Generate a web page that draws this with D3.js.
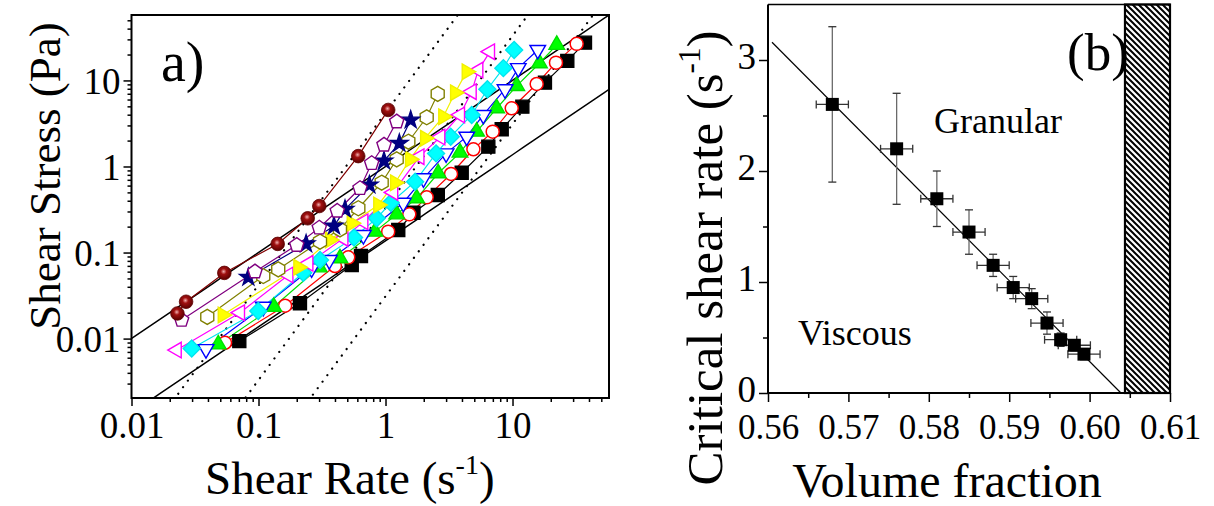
<!DOCTYPE html>
<html><head><meta charset="utf-8">
<script src="https://cdn.jsdelivr.net/npm/d3@7/dist/d3.min.js"></script>
<style>
html,body{margin:0;padding:0;background:#fff;}
svg{display:block;font-family:"Liberation Serif","Times New Roman",serif;}
</style></head>
<body>
<svg id="chart" width="1214" height="506"></svg>
<script>
// ---------- Panel a data: [shear rate (1/s), shear stress (Pa)] ----------
const sMaroon  = [[0.023,0.0196],[0.0269,0.0268],[0.0538,0.058],[0.1416,0.126],[0.244,0.25],[0.301,0.347],[0.61,1.32],[1.05,4.54]];
const sPurple  = [[0.0248,0.0164],[0.0938,0.06],[0.2,0.122],[0.301,0.194],[0.417,0.304],[0.63,0.558],[0.778,1.09],[0.973,1.78],[1.225,3.32]];
const sNavy    = [[0.0832,0.0515],[0.237,0.126],[0.393,0.203],[0.48,0.318],[0.746,0.61],[0.973,1.16],[1.285,1.86],[1.578,3.47]];
const sOlive   = [[0.0395,0.0179],[0.109,0.0533],[0.143,0.0638],[0.305,0.134],[0.438,0.186],[0.611,0.327],[0.933,0.648],[1.225,1.21],[1.513,1.94],[2.11,3.73],[2.576,6.97]];
const sYellow  = [[0.0523,0.0188],[0.206,0.0673],[0.366,0.14],[0.542,0.219],[0.877,0.357],[1.19,0.648],[1.56,1.21],[2.05,2.13],[2.85,3.79],[3.53,7.21],[4.36,12.65]];
const sMagenta = [[0.0227,0.00735],[0.0715,0.02],[0.172,0.0548],[0.247,0.0749],[0.466,0.146],[0.669,0.228],[1.15,0.5],[1.85,1.3],[2.7,2.2],[3.86,3.97],[4.77,7.41],[5.38,13.2],[6.65,21.6]];
const sCyan    = [[0.0298,0.00769],[0.0996,0.0209],[0.225,0.0582],[0.305,0.0818],[0.565,0.15],[0.853,0.25],[1.1,0.379],[1.71,0.666],[2.5,1.42],[3.26,2.22],[4.77,3.97],[6.34,7.9],[8.47,13.9],[10.3,22.6]];
const sBlue    = [[0.0386,0.00755],[0.109,0.0234],[0.262,0.0655],[0.361,0.0818],[0.669,0.16],[1.38,0.379],[1.99,0.729],[3.0,1.42],[4.36,2.22],[5.89,3.97],[8.73,7.9],[11.1,13.9],[15.8,22.6]];
const sGreen   = [[0.0482,0.00856],[0.132,0.0234],[0.301,0.0673],[0.438,0.0857],[0.826,0.175],[1.225,0.278],[1.76,0.427],[2.6,0.834],[3.86,1.45],[5.22,2.54],[7.51,4.75],[10.8,8.63],[16.3,15.85],[22.3,25.9]];
const sRed     = [[0.0545,0.00894],[0.162,0.0241],[0.4,0.0697],[0.509,0.088],[1.05,0.175],[1.54,0.278],[2.11,0.438],[3.28,0.818],[4.92,1.585],[6.98,2.54],[9.86,4.75],[15.5,9.1],[22.0,16.1],[32.0,26.6]];
const sBlack   = [[0.0706,0.00935],[0.212,0.0257],[0.542,0.0716],[0.641,0.091],[1.26,0.183],[1.66,0.29],[2.58,0.467],[3.98,0.847],[6.45,1.70],[8.22,2.71],[11.95,4.96],[18.0,9.42],[27.0,16.9],[37.2,27.5]];
// reference lines: tau = k * rate^n
const solidK = [1.0, 0.137];   // slope 1 lines
const dottedK = [4.2, 0.33, 0.031]; // slope 2 lines
const xTicksA = [0.01, 0.1, 1, 10];
const yTicksA = [0.01, 0.1, 1, 10];

// ---------- Panel b data ----------
const phi     = [0.568,0.576,0.581,0.585,0.588,0.5905,0.5928,0.5947,0.5964,0.5981,0.5993];
const rateC   = [2.6,2.2,1.75,1.45,1.15,0.95,0.85,0.63,0.48,0.43,0.35];
const rateErr = [0.7,0.5,0.25,0.2,0.1,0.1,0.09,0.1,0.06,0.05,0.05];
const phiErr  = [0.002,0.002,0.002,0.002,0.002,0.002,0.002,0.002,0.002,0.002,0.002];
const phiFit  = [0.5605, 0.6039];
const rateFit = [3.16, 0];
const phiJam  = [0.6044, 0.61];
const xTicksB = [0.56,0.57,0.58,0.59,0.60,0.61];
const yTicksB = [0,1,2,3];

const svg = d3.select("#chart");
const defs = svg.append("defs");
const grad = defs.append("radialGradient").attr("id","sphere").attr("cx","45%").attr("cy","40%").attr("r","60%");
grad.append("stop").attr("offset","0%").attr("stop-color","#f2b0b0");
grad.append("stop").attr("offset","35%").attr("stop-color","#a01010");
grad.append("stop").attr("offset","100%").attr("stop-color","#5a0000");
const pat = defs.append("pattern").attr("id","hatch").attr("patternUnits","userSpaceOnUse")
  .attr("width",6).attr("height",6);
pat.append("path").attr("d","M-1,-1 L7,7 M-1,5 L1,7 M5,-1 L7,1").attr("stroke","#000").attr("stroke-width",2);

// ================= Panel a =================
const xa = d3.scaleLog().domain([0.01, 57.5]).range([131.5, 609]);
const ya = d3.scaleLog().domain([0.00204, 57.6]).range([398, 15]);
const ga = svg.append("g");
const clipA = defs.append("clipPath").attr("id","clipA");
clipA.append("rect").attr("x",131.5).attr("y",15).attr("width",609-131.5).attr("height",398-15);

function minorLog(domain){
  const out=[];
  for(let e=-4;e<=3;e++){for(let m=1;m<10;m++){const v=m*Math.pow(10,e);
    if(v>=domain[0]*0.9999 && v<=domain[1]*1.0001) out.push(v);}}
  return out;
}
const fmtA = v => v>=1 ? String(v) : String(+v.toPrecision(1));
// x axis
ga.append("g").attr("transform","translate(0,398)")
  .call(d3.axisBottom(xa).tickValues(minorLog(xa.domain()).filter(v=>!xTicksA.includes(v))).tickSize(4).tickFormat(""))
  .call(g=>g.select(".domain").remove());
ga.append("g").attr("transform","translate(0,398)")
  .call(d3.axisBottom(xa).tickValues(xTicksA).tickSize(8).tickPadding(6).tickFormat(fmtA))
  .call(g=>g.select(".domain").remove())
  .call(g=>g.selectAll("text").attr("font-size",37).attr("font-family","Liberation Serif").attr("fill","#000"));
// y axis
ga.append("g").attr("transform","translate(131.5,0)")
  .call(d3.axisLeft(ya).tickValues(minorLog(ya.domain()).filter(v=>!yTicksA.includes(v))).tickSize(4).tickFormat(""))
  .call(g=>g.select(".domain").remove());
ga.append("g").attr("transform","translate(131.5,0)")
  .call(d3.axisLeft(ya).tickValues(yTicksA).tickSize(8).tickPadding(3).tickFormat(fmtA))
  .call(g=>g.select(".domain").remove())
  .call(g=>g.selectAll("text").attr("font-size",37).attr("font-family","Liberation Serif").attr("fill","#000").attr("dy","0.34em"));
ga.selectAll(".tick line").attr("stroke","#000").attr("stroke-width",1.5);

const plotA = ga.append("g").attr("clip-path","url(#clipA)");
// reference lines
function refLine(k,n){
  const r = d3.range(0,61).map(i=>Math.pow(10,-2.2+i*0.07));
  return r.map(x=>[x,k*Math.pow(x,n)]);
}
const lineA = d3.line().x(d=>xa(d[0])).y(d=>ya(d[1]));
solidK.forEach(k=>plotA.append("path").attr("d",lineA(refLine(k,1))).attr("fill","none").attr("stroke","#000").attr("stroke-width",1.5));
dottedK.forEach(k=>plotA.append("path").attr("d",lineA(refLine(k,2))).attr("fill","none").attr("stroke","#000").attr("stroke-width",2.2).attr("stroke-dasharray","0.1 8").attr("stroke-linecap","round"));

function poly(n, r, rot){
  const pts=[];
  for(let i=0;i<n;i++){const a=rot+i*2*Math.PI/n; pts.push([r*Math.sin(a),-r*Math.cos(a)]);}
  return "M"+pts.map(p=>p[0].toFixed(2)+","+p[1].toFixed(2)).join("L")+"Z";
}
const shapes = {
  sphere: {type:"circle"},
  pentagon: {d:poly(5,7.5,0)},
  star: {d:d3.symbol(d3.symbolStar,95)()},
  hexagon: {d:poly(6,7.5,0)},
  triRight: {d:poly(3,9,Math.PI/2)},
  triLeft: {d:poly(3,9,-Math.PI/2)},
  diamond: {d:poly(4,8.5,0)},
  triDown: {d:poly(3,9,Math.PI)},
  triUp: {d:poly(3,9,0)},
  circle: {type:"circle"},
  square: {d:"M-6.5,-6.5H6.5V6.5H-6.5Z"}
};
const seriesA = [
  {data:sBlack,   color:"#000000", shape:"square",   fill:"#000000"},
  {data:sRed,     color:"#ff0000", shape:"circle",   fill:"#ffffff"},
  {data:sGreen,   color:"#00e000", shape:"triUp",    fill:"#00ff00"},
  {data:sBlue,    color:"#0000ff", shape:"triDown",  fill:"#ffffff"},
  {data:sCyan,    color:"#00e5ee", shape:"diamond",  fill:"#00ffff"},
  {data:sMagenta, color:"#ff00ff", shape:"triLeft",  fill:"#ffffff"},
  {data:sYellow,  color:"#f0f000", shape:"triRight", fill:"#ffff00"},
  {data:sOlive,   color:"#808000", shape:"hexagon",  fill:"#ffffff"},
  {data:sNavy,    color:"#000080", shape:"star",     fill:"#000080"},
  {data:sPurple,  color:"#800080", shape:"pentagon", fill:"#ffffff"},
  {data:sMaroon,  color:"#800000", shape:"sphere",   fill:"url(#sphere)"}
];
seriesA.forEach(s=>{
  plotA.append("path").attr("d",lineA(s.data)).attr("fill","none").attr("stroke",s.color).attr("stroke-width",1.2);
});
seriesA.forEach(s=>{
  const g = plotA.append("g");
  const sh = shapes[s.shape];
  s.data.forEach(d=>{
    if(sh.type==="circle"){
      g.append("circle").attr("cx",xa(d[0])).attr("cy",ya(d[1])).attr("r",s.shape==="sphere"?6.8:6.5)
        .attr("fill",s.fill).attr("stroke",s.shape==="sphere"?"#600000":s.color).attr("stroke-width",s.shape==="sphere"?0.8:1.5);
    } else {
      g.append("path").attr("d",sh.d).attr("transform",`translate(${xa(d[0])},${ya(d[1])})`)
        .attr("fill",s.fill).attr("stroke",s.color).attr("stroke-width",1.4).attr("stroke-linejoin","miter");
    }
  });
});
ga.append("rect").attr("x",131.5).attr("y",15).attr("width",609-131.5).attr("height",398-15)
  .attr("fill","none").attr("stroke","#000").attr("stroke-width",2);
ga.append("text").attr("x",161).attr("y",81).attr("font-size",56).text("a)");
ga.append("text").attr("transform","translate(60,176) rotate(-90)").attr("text-anchor","middle").attr("font-size",45)
  .text("Shear Stress (Pa)");
const xtA = ga.append("text").attr("x",205).attr("y",494).attr("font-size",47);
xtA.append("tspan").text("Shear Rate (s");
xtA.append("tspan").attr("font-size",28).attr("dy",-20).text("-1");
xtA.append("tspan").attr("dy",20).text(")");

// ================= Panel b =================
const xb = d3.scaleLinear().domain([0.56,0.61]).range([768,1170]);
const yb = d3.scaleLinear().domain([0,3.5]).range([393,4.5]);
const gb = svg.append("g");
// hatched jamming region
gb.append("rect").attr("x",xb(phiJam[0])).attr("y",yb(3.5)).attr("width",xb(phiJam[1])-xb(phiJam[0])).attr("height",yb(0)-yb(3.5))
  .attr("fill","url(#hatch)").attr("stroke","#000").attr("stroke-width",2.2);
// axes
gb.append("g").attr("transform","translate(0,393)")
  .call(d3.axisBottom(xb).tickValues(d3.range(0.565,0.61,0.01)).tickSize(5).tickFormat(""))
  .call(g=>g.select(".domain").remove());
gb.append("g").attr("transform","translate(0,393)")
  .call(d3.axisBottom(xb).tickValues(xTicksB).tickSize(9).tickPadding(12).tickFormat(d3.format(".2f")))
  .call(g=>g.select(".domain").remove())
  .call(g=>g.selectAll("text").attr("font-size",35).attr("font-family","Liberation Serif").attr("fill","#000"));
gb.append("g").attr("transform","translate(768,0)")
  .call(d3.axisLeft(yb).tickValues([0.5,1.5,2.5]).tickSize(5).tickFormat(""))
  .call(g=>g.select(".domain").remove());
gb.append("g").attr("transform","translate(768,0)")
  .call(d3.axisLeft(yb).tickValues(yTicksB).tickSize(9).tickPadding(3).tickFormat(d3.format("d")))
  .call(g=>g.select(".domain").remove())
  .call(g=>g.selectAll("text").attr("font-size",37).attr("font-family","Liberation Serif").attr("fill","#000").attr("dy","0.22em"));
gb.selectAll(".tick line").attr("stroke","#000").attr("stroke-width",1.5);
gb.append("line").attr("x1",768).attr("x2",1170).attr("y1",393).attr("y2",393).attr("stroke","#000").attr("stroke-width",2);
gb.append("line").attr("x1",768).attr("x2",768).attr("y1",393).attr("y2",4.5).attr("stroke","#000").attr("stroke-width",2);
gb.append("line").attr("x1",768).attr("x2",1170).attr("y1",4.5).attr("y2",4.5).attr("stroke","#000").attr("stroke-width",1.5);
// fit line
gb.append("line").attr("x1",xb(phiFit[0])).attr("y1",yb(rateFit[0])).attr("x2",xb(phiFit[1])).attr("y2",yb(rateFit[1]))
  .attr("stroke","#000").attr("stroke-width",1.2);
// error bars
const eb = gb.append("g");
phi.forEach((p,i)=>{
  const cx=xb(p), cy=yb(rateC[i]);
  const y1=yb(rateC[i]+rateErr[i]), y2=yb(rateC[i]-rateErr[i]);
  const x1=xb(p-phiErr[i]), x2=xb(p+phiErr[i]);
  eb.append("line").attr("x1",cx).attr("x2",cx).attr("y1",y1).attr("y2",y2).attr("stroke","#6a6a6a").attr("stroke-width",1.3);
  eb.append("line").attr("x1",cx-4).attr("x2",cx+4).attr("y1",y1).attr("y2",y1).attr("stroke","#333").attr("stroke-width",1.3);
  eb.append("line").attr("x1",cx-4).attr("x2",cx+4).attr("y1",y2).attr("y2",y2).attr("stroke","#333").attr("stroke-width",1.3);
  eb.append("line").attr("x1",x1).attr("x2",x2).attr("y1",cy).attr("y2",cy).attr("stroke","#333").attr("stroke-width",1.3);
  eb.append("line").attr("x1",x1).attr("x2",x1).attr("y1",cy-4).attr("y2",cy+4).attr("stroke","#333").attr("stroke-width",1.3);
  eb.append("line").attr("x1",x2).attr("x2",x2).attr("y1",cy-4).attr("y2",cy+4).attr("stroke","#333").attr("stroke-width",1.3);
});
gb.selectAll("rect.pt").data(phi).enter().append("rect").attr("class","pt")
  .attr("x",(d)=>xb(d)-6.5).attr("y",(d,i)=>yb(rateC[i])-6.5).attr("width",13).attr("height",13).attr("fill","#000");
gb.append("text").attr("x",1067).attr("y",70).attr("font-size",53).text("(b)");
gb.append("text").attr("x",934).attr("y",133).attr("font-size",36).text("Granular");
gb.append("text").attr("x",798).attr("y",345).attr("font-size",36).text("Viscous");
const ytB = gb.append("text").attr("transform","translate(722,258) rotate(-90)").attr("text-anchor","middle").attr("font-size",51);
ytB.append("tspan").text("Critical shear rate (s");
ytB.append("tspan").attr("font-size",31).attr("dy",-22).text("-1");
ytB.append("tspan").attr("dy",22).text(")");
gb.append("text").attr("x",947).attr("y",497).attr("text-anchor","middle").attr("font-size",48).text("Volume fraction");
</script>
</body></html>
